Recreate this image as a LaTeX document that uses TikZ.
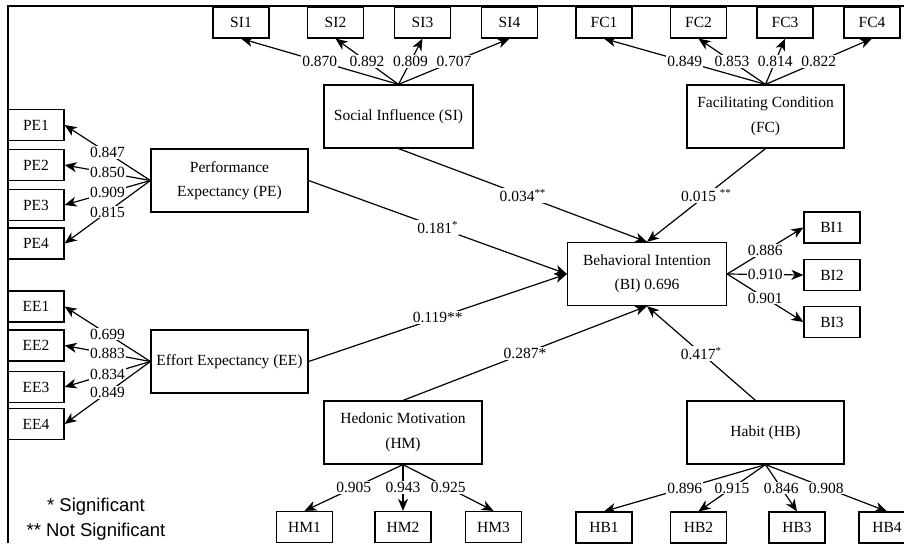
\documentclass[tikz,border=0pt]{standalone}
\usepackage{fontspec}
\setmainfont{Liberation Serif}
\setsansfont{Liberation Sans}
\usepackage{tikz}
\usetikzlibrary{arrows.meta}
\usetikzlibrary{positioning, calc}
\tikzset{
    indbox/.style = {draw=black, line width=1.2pt, inner sep=0pt,
        minimum width=56pt, minimum height=31pt, text centered,
        font=\fontsize{15.5}{18}\selectfont},
    construct/.style = {draw=black, line width=1.2pt, align=center,
        minimum width=157pt, minimum height=63pt,
        font=\fontsize{15.5}{24.5}\selectfont},
    loading/.style = {fill=white, inner sep=1pt,
        font=\fontsize{15.5}{18}\selectfont},
}

\begin{document}
\begin{tikzpicture}[x=1pt,y=-1pt,->,>={Stealth[length=12pt,width=10pt,inset=3.5pt]},line width=1.2pt]
        \useasboundingbox (0,0) rectangle (904,543);
        \draw[-] (8,543) -- (8,6) -- (904,6);
        % constructs
        \node [construct, minimum width=149pt] (SI) at (398.5,116.5) {Social Influence (SI)};
        \node [construct] (FC) at (765.5,116.5) {Facilitating Condition\\(FC)};
        \node [construct] (PE) at (229.5,180.5) {Performance\\Expectancy (PE)};
        \node [construct] (EE) at (229.5,361.5) {Effort Expectancy (EE)};
        \node [construct, minimum width=159pt] (BI) at (647,274) {Behavioral Intention\\(BI) 0.696};
        \node [construct, minimum width=158pt] (HM) at (403,432.5) {Hedonic Motivation\\(HM)};
        \node [construct] (HB) at (765.5,432.5) {Habit (HB)};
        % indicators
        \node [indbox] (SI1) at (241,22.5) {SI1};
        \node [indbox] (SI2) at (335.5,22.5) {SI2};
        \node [indbox] (SI3) at (422.5,22.5) {SI3};
        \node [indbox] (SI4) at (509.5,22.5) {SI4};
        \node [indbox] (FC1) at (604,22.5) {FC1};
        \node [indbox] (FC2) at (698.5,22.5) {FC2};
        \node [indbox] (FC3) at (785,22.5) {FC3};
        \node [indbox] (FC4) at (872,22.5) {FC4};
        \node [indbox] (PE1) at (36,125) {PE1};
        \node [indbox] (PE2) at (36,165) {PE2};
        \node [indbox] (PE3) at (36,205) {PE3};
        \node [indbox] (PE4) at (36,243.5) {PE4};
        \node [indbox] (EE1) at (36,306.5) {EE1};
        \node [indbox] (EE2) at (36,345.5) {EE2};
        \node [indbox] (EE3) at (36,387) {EE3};
        \node [indbox] (EE4) at (36,424) {EE4};
        \node [indbox] (BI1) at (832,227.5) {BI1};
        \node [indbox] (BI2) at (832,275) {BI2};
        \node [indbox] (BI3) at (832,322) {BI3};
        \node [indbox] (HM1) at (304.5,527) {HM1};
        \node [indbox] (HM2) at (403,527) {HM2};
        \node [indbox] (HM3) at (493.5,527) {HM3};
        \node [indbox] (HB1) at (604,527.5) {HB1};
        \node [indbox] (HB2) at (698.5,527.5) {HB2};
        \node [indbox] (HB3) at (797,527.5) {HB3};
        \node [indbox] (HB4) at (887,527.5) {HB4};
        % loadings
        \draw (SI.north) -- node [loading] {0.870} (SI1.south);
        \draw (SI.north) -- node [loading] {0.892} (SI2.south);
        \draw (SI.north) -- node [loading] {0.809} (SI3.south);
        \draw (SI.north) -- node [loading] {0.707} (SI4.south);
        \draw (FC.north) -- node [loading] {0.849} (FC1.south);
        \draw (FC.north) -- node [loading] {0.853} (FC2.south);
        \draw (FC.north) -- node [loading] {0.814} (FC3.south);
        \draw (FC.north) -- node [loading] {0.822} (FC4.south);
        \draw (PE.west) -- node [loading] {0.847} (PE1.east);
        \draw (PE.west) -- node [loading] {0.850} (PE2.east);
        \draw (PE.west) -- node [loading] {0.909} (PE3.east);
        \draw (PE.west) -- node [loading] {0.815} (PE4.east);
        \draw (EE.west) -- node [loading] {0.699} (EE1.east);
        \draw (EE.west) -- node [loading] {0.883} (EE2.east);
        \draw (EE.west) -- node [loading] {0.834} (EE3.east);
        \draw (EE.west) -- node [loading] {0.849} (EE4.east);
        \draw (BI.east) -- node [loading] {0.886} (BI1.west);
        \draw (BI.east) -- node [loading] {0.910} (BI2.west);
        \draw (BI.east) -- node [loading] {0.901} (BI3.west);
        \draw (HM.south) -- node [loading] {0.905} (HM1.north);
        \draw (HM.south) -- node [loading] {0.943} (HM2.north);
        \draw (HM.south) -- node [loading] {0.925} (HM3.north);
        \draw (HB.south) -- node [loading] {0.896} (HB1.north);
        \draw (HB.south) -- node [loading] {0.915} (HB2.north);
        \draw (HB.south) -- node [loading] {0.846} (HB3.north);
        \draw (HB.south) -- node [loading] {0.908} (HB4.north);
        % paths
        \draw (PE.east) -- node [loading] {0.181\textsuperscript{*}} (BI.west);
        \draw (EE.east) -- node [loading] {0.119**} (BI.west);
        \draw (SI.south) -- node [loading] {0.034\textsuperscript{**}} (BI.north);
        \draw (FC.south) -- node [loading] {0.015 \textsuperscript{**}} (BI.north);
        \draw (HM.north) -- node [loading] {0.287*} (BI.south);
        \draw ([xshift=-10pt]HB.north) -- node [loading] {0.417\textsuperscript{*}} (BI.south);
        % legend
        \node [align=center, font=\sffamily\fontsize{18.5}{25}\selectfont] (legend) at (96,519.5) {* Significant\\** Not Significant};
\end{tikzpicture}
\end{document}
